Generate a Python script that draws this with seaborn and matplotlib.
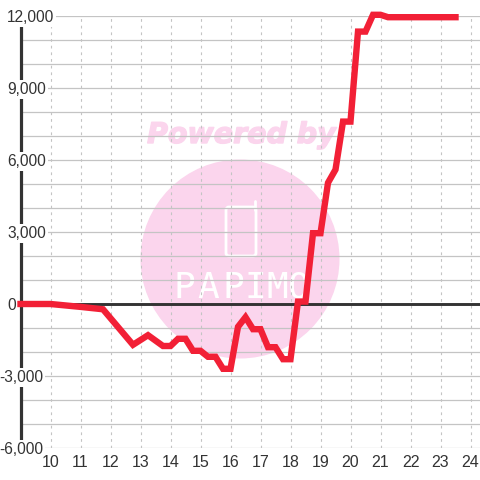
import pandas as pd
import seaborn as sns
import matplotlib.pyplot as plt
import matplotlib.patheffects as pe
from matplotlib.patches import Circle, FancyBboxPatch

hours = [9, 10, 11, 11.75, 12.75, 13.25, 13.75, 14, 14.25, 14.5, 14.75, 15, 15.25, 15.5, 15.75,
         16, 16.25, 16.5, 16.75, 17, 17.25, 17.5, 17.75, 18, 18.25, 18.5, 18.75, 19, 19.25, 19.5,
         19.75, 20, 20.25, 20.5, 20.75, 21, 21.25, 23.5]
values = [0, 0, -120, -220, -1700, -1300, -1750, -1750, -1450, -1450, -1950, -1950, -2200, -2200, -2700,
          -2700, -950, -550, -1050, -1050, -1800, -1800, -2300, -2300, 100, 100, 2950, 2950, 5050, 5600,
          7600, 7600, 11350, 11350, 12050, 12050, 11950, 11950]
x_ticks = list(range(10, 25))
y_major = [-6000, -3000, 0, 3000, 6000, 9000, 12000]
y_minor = [-5000, -4000, -2000, -1000, 1000, 2000, 4000, 5000, 7000, 8000, 10000, 11000]
logo_letters = ['P', 'A', 'P', 'I', 'M', 'O']
logo_x = [184, 208, 233, 255, 277, 299]

df = pd.DataFrame({'hour': hours, 'value': values})

sns.set_style('white')
plt.rcParams['font.family'] = ['Liberation Sans', 'DejaVu Sans']

fig = plt.figure(figsize=(4.8, 4.8), dpi=100)
ax = fig.add_axes([20.5 / 480, 1 - 448 / 480, 459.5 / 480, 432 / 480])
ax.set_xlim(9, 9 + 459.5 / 30)
ax.set_ylim(-6000, 12000)
ax.patch.set_alpha(0)
for s in ax.spines.values():
    s.set_visible(False)

# watermark sits under the grid
over = fig.add_axes([0, 0, 1, 1], zorder=-1)
over.set_xlim(0, 480)
over.set_ylim(480, 0)
over.axis('off')
over.add_patch(Circle((240, 259), 99.5, color='#fbd5ed', lw=0))
over.text(241.5, 135, 'Powered by', color='#fbd5ed', fontsize=20.5, fontweight='bold', fontstyle='italic',
          family='DejaVu Sans', ha='center', va='center',
          path_effects=[pe.withStroke(linewidth=1, foreground='#fbd5ed')])
over.add_patch(FancyBboxPatch((226, 207), 30, 49, boxstyle='round,pad=0,rounding_size=3',
                              fc='none', ec='white', lw=2))
over.plot([255, 255], [201, 210], color='white', lw=2, solid_capstyle='round')
for letter, lx in zip(logo_letters, logo_x):
    over.text(lx, 288, letter, color='white', fontsize=26, family='DejaVu Sans Mono',
              ha='center', va='center')

ax.set_xticks(x_ticks)
ax.set_yticks(y_major)
ax.set_yticks(y_minor, minor=True)
ax.grid(axis='x', color='#c4c4c4', lw=0.8, ls=(0, (2.5, 3.5)))
ax.grid(axis='y', which='both', color='#c4c4c4', lw=0.9, ls='-')
ax.set_axisbelow(True)

ax.axhline(0, color='#333333', lw=2.1, zorder=2)
ax.plot([9, 9], [-5670, 11670], color='#333333', lw=2.3, zorder=2, solid_capstyle='butt', clip_on=False)

sns.lineplot(data=df, x='hour', y='value', ax=ax, color='#f22036', lw=4.6, zorder=3,
             solid_capstyle='projecting', solid_joinstyle='miter', clip_on=False)
ax.set_xlabel('')
ax.set_ylabel('')

ax.tick_params(axis='both', which='both', length=0)
ax.set_xticklabels([])
ax.set_yticklabels([])
for t in x_ticks:
    ax.text(t, -6600, str(t), color='#333333', fontsize=11.5, ha='center', va='center')
for v in y_major:
    # label sits a little below its gridline, as in the original
    if v < 0:
        ax.text(9.75, v - 60, format(v, ','), color='#333333', fontsize=11.2, ha='right', va='center',
                bbox=dict(fc='white', ec='none', pad=1.5), zorder=2.5)
    else:
        ax.text(8.55, v - 60, format(v, ','), color='#333333', fontsize=11.2, ha='left', va='center',
                bbox=dict(fc='white', ec='none', pad=1.5), zorder=2.5)

fig.savefig('out.png', dpi=100)
